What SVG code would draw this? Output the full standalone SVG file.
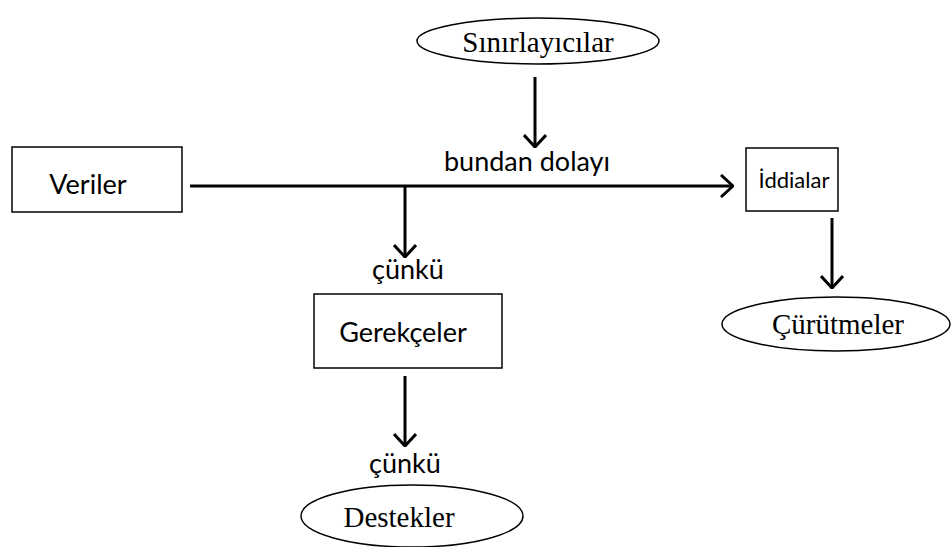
<svg xmlns="http://www.w3.org/2000/svg" width="951" height="547" viewBox="0 0 951 547">
<defs>
<style>
.box{fill:#fff;stroke:#000;stroke-width:1.5}
.ell{fill:#fff;stroke:#000;stroke-width:1.5}
.sans{font-family:Lato,"Open Sans","Liberation Sans",sans-serif;font-size:27px;fill:#000;text-anchor:middle}
.serif{font-family:"Liberation Serif","Times New Roman",serif;font-size:29px;fill:#000;text-anchor:middle}
.line{stroke:#000;stroke-width:3;fill:none}
</style>
<marker id="arr" viewBox="0 0 14 24" markerWidth="14" markerHeight="24" refX="13" refY="12" orient="auto" markerUnits="userSpaceOnUse">
<path d="M1,1 L13,12 L1,23" fill="none" stroke="#000" stroke-width="3"/>
</marker>
</defs>
<rect width="951" height="547" fill="#fff"/>
<g id="connectors">
<line class="line" x1="535" y1="77" x2="535" y2="147" marker-end="url(#arr)"/>
<line class="line" x1="190" y1="186" x2="733" y2="186" marker-end="url(#arr)"/>
<line class="line" x1="405" y1="186" x2="405" y2="257" marker-end="url(#arr)"/>
<line class="line" x1="832" y1="218" x2="832" y2="288" marker-end="url(#arr)"/>
<line class="line" x1="405" y1="376" x2="405" y2="446" marker-end="url(#arr)"/>
<text class="sans" x="527" y="171">bundan dolayı</text>
<text class="sans" x="408" y="279">çünkü</text>
<text class="sans" x="405" y="473">çünkü</text>
</g>
<g id="sinirlayicilar">
<ellipse class="ell" cx="538" cy="41" rx="121" ry="23"/>
<text class="serif" x="538" y="52">Sınırlayıcılar</text>
</g>
<g id="veriler">
<rect class="box" x="12" y="147" width="170" height="65"/>
<text class="sans" x="88" y="194">Veriler</text>
</g>
<g id="iddialar">
<rect class="box" x="746" y="148" width="92" height="63"/>
<text class="sans" x="794" y="188" style="font-size:22px">İddialar</text>
</g>
<g id="curutmeler">
<ellipse class="ell" cx="836" cy="324" rx="114" ry="27"/>
<text class="serif" x="838" y="334">Çürütmeler</text>
</g>
<g id="gerekceler">
<rect class="box" x="314" y="294" width="188" height="74"/>
<text class="sans" x="403" y="342">Gerekçeler</text>
</g>
<g id="destekler">
<ellipse class="ell" cx="412" cy="516" rx="111" ry="31"/>
<text class="serif" x="399" y="527">Destekler</text>
</g>
</svg>
